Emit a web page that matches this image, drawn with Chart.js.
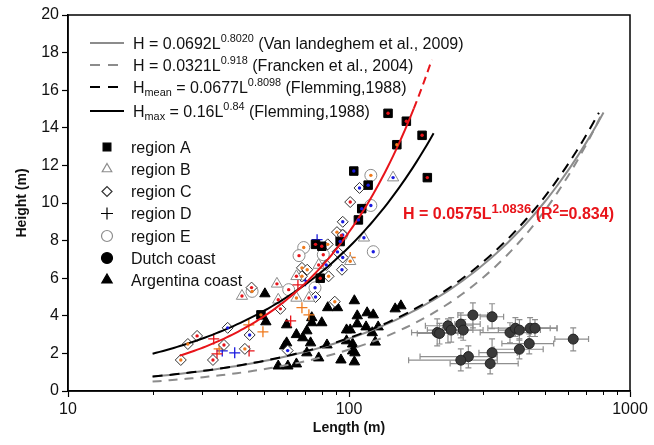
<!DOCTYPE html>
<html>
<head>
<meta charset="utf-8">
<script src="https://cdn.jsdelivr.net/npm/chart.js@4.4.1/dist/chart.umd.min.js"></script>
<style>
  html, body { margin: 0; padding: 0; background: #fff; }
</style>
</head>
<body>
<canvas id="bedforms" width="654" height="445"></canvas>
<script>
// [length (m), height (m), sub-group]
const regionA = [
  [137.7, 14.77, 'r'], [160, 14.35, 'r'], [182, 13.6, 'r'], [148, 13.1, 'o'],
  [190, 11.35, 'r'], [104, 11.7, 'b'], [117, 10.95, 'b'], [111, 9.7, 'b'],
  [108, 9.1, 'b'], [93, 7.95, 'b'], [80, 7.7, 'r'], [76, 7.8, 'r'],
  [79, 6.0, 'r'], [48.6, 4.05, 'o']
];
const regionB = [
  [143.5, 11.35, 'b'], [113, 8.15, 'b'], [101, 6.9, 'o'], [78, 6.7, 'r'],
  [65, 6.1, 'r'], [55.4, 5.7, 'r'], [41.6, 5.05, 'r'], [65, 4.95, 'o'],
  [56, 4.85, 'r'], [72, 4.95, 'r']
];
const regionC = [
  [109, 10.8, 'b'], [101, 10.05, 'r'], [95, 9.0, 'b'], [90.6, 8.45, 'o'],
  [95, 8.3, 'b'], [84, 7.8, 'o'], [91, 7.4, 'b'], [95, 7.1, 'b'],
  [68, 6.55, 'o'], [71, 6.45, 'o'], [83, 6.7, 'b'], [94.4, 6.45, 'b'],
  [68, 6.1, 'o'], [84.6, 6.1, 'o'], [76, 5.0, 'b'], [89, 4.75, 'o'],
  [57, 4.37, 'r'], [45, 5.5, 'r'], [37, 3.36, 'b'], [28.8, 2.93, 'r'],
  [26.7, 2.5, 'o'], [35.9, 2.45, 'r'], [32.8, 1.65, 'r'], [42.6, 2.24, 'o'],
  [25.2, 1.65, 'o'], [60.5, 2.15, 'b'], [44.3, 2.98, 'b']
];
const regionD = [
  [77, 8.05, 'b'], [101, 7.1, 'o'], [70, 5.87, 'b'], [65.8, 5.65, 'r'],
  [68, 4.43, 'o'], [72, 4.05, 'o'], [62, 3.73, 'r'], [44, 3.52, 'o'],
  [49.4, 3.15, 'o'], [33, 2.77, 'r'], [35.4, 2.13, 'b'], [33.9, 1.97, 'r'],
  [39.2, 2.03, 'b'], [44.1, 2.13, 'r'], [34.5, 2.24, 'o']
];
const regionE = [
  [119.6, 11.47, 'o'], [119.6, 9.87, 'b'], [94, 8.27, 'r'], [81, 7.25, 'r'],
  [69, 7.63, 'o'], [66.4, 7.2, 'r'], [122, 7.41, 'b'], [75.7, 5.49, 'b'],
  [61, 5.39, 'r'], [45.2, 5.3, 'o']
];
const argentinaCoast = [
  [50.2, 5.17], [50.6, 3.68], [60, 3.52], [65, 3.0], [70.8, 3.2], [68.5, 2.83],
  [60, 2.56], [59, 2.4], [73, 2.56], [73.7, 3.9], [73.7, 3.63], [80, 3.63],
  [84, 4.43], [91, 4.43], [104.5, 4.8], [107, 4.0], [116, 4.16], [122, 4.05],
  [107, 3.57], [115, 3.41], [127, 3.41], [98, 3.25], [101, 3.25], [83.5, 2.45],
  [98, 2.67], [103, 2.5], [103, 2.13], [105, 2.03], [124, 2.6], [121, 3.1],
  [70.8, 2.03], [78, 1.76], [93.6, 1.65], [104.5, 1.55], [56, 1.33], [60.6, 1.33],
  [65, 1.44], [146, 4.37], [153, 4.53]
];
// [length, height, length min, length max, height min, height max]
const dutchCoast = [
  [276, 4.04, 244, 312, 3.36, 4.69], [323, 3.95, 293, 355, 3.31, 4.64],
  [225, 3.47, 187, 276, 2.56, 3.84], [250, 3.56, 238, 293, 2.83, 4.16],
  [206, 3.11, 167, 244, 2.4, 3.84], [210, 3.06, 175, 250, 2.5, 3.6],
  [231, 3.24, 190, 276, 2.6, 3.9], [255, 3.24, 215, 300, 2.7, 3.8],
  [374, 3.11, 293, 441, 2.56, 3.63], [391, 3.34, 312, 550, 2.9, 3.9],
  [404, 3.24, 340, 480, 2.7, 3.8], [441, 3.34, 383, 550, 2.9, 3.9],
  [459, 3.34, 400, 520, 2.9, 3.8], [628, 2.76, 540, 712, 2.13, 3.36],
  [438, 2.52, 350, 535, 1.97, 3.04], [404, 2.22, 328, 491, 1.71, 2.77],
  [323, 2.04, 290, 397, 1.33, 2.77], [266, 1.83, 179, 337, 1.23, 2.4],
  [250, 1.64, 163, 337, 1.07, 2.24], [318, 1.46, 229, 400, 0.91, 2.13]
];

// H = a * L^b, drawn between the given lengths
const eqVanLandeghem = [0.0692, 0.8020];
const eqFrancken = [0.0321, 0.918];
const eqFlemmingMean = [0.0677, 0.8098];
const eqFlemmingMax = [0.16, 0.84];
const eqFit = [0.0575, 1.0836];
const fitR2 = 0.834;

const xMajor = [10, 100, 1000];
const xMinor = [20, 30, 40, 50, 60, 70, 80, 90, 200, 300, 400, 500, 600, 700, 800, 900];

const FONT = "'Liberation Sans', Arial, Helvetica, sans-serif";
const dotColors = { r: '#e8141a', o: '#f07a1c', b: '#1a1ae0' };

function powerCurve([a, b], from, to) {
  const pts = [];
  const n = 80;
  for (let i = 0; i <= n; i++) {
    const L = from * Math.pow(to / from, i / n);
    pts.push({ x: L, y: a * Math.pow(L, b) });
  }
  return pts;
}

const toXY = arr => arr.map(p => ({ x: p[0], y: p[1] }));

function curve(eq, from, to, color, dash) {
  return {
    data: powerCurve(eq, from, to), showLine: true, pointRadius: 0,
    borderColor: color, borderWidth: 2, borderDash: dash || [], fill: false
  };
}

function markers(arr, style, opts) {
  return Object.assign({
    data: toXY(arr), groups: arr.map(p => p[2]), pointStyle: style,
    showLine: false, pointBorderWidth: 1
  }, opts);
}

// small coloured dot in the middle of each region marker
const centreDots = {
  id: 'centreDots',
  afterDatasetsDraw(chart) {
    const ctx = chart.ctx;
    ctx.save();
    chart.data.datasets.forEach((ds, i) => {
      if (!ds.groups || ds.pointStyle === 'cross') return;
      chart.getDatasetMeta(i).data.forEach((pt, j) => {
        ctx.beginPath();
        ctx.arc(pt.x, pt.y, 1.7, 0, Math.PI * 2);
        ctx.fillStyle = dotColors[ds.groups[j]];
        ctx.fill();
      });
    });
    ctx.restore();
  }
};

const errorBars = {
  id: 'errorBars',
  beforeDatasetsDraw(chart) {
    const { ctx, scales: { x, y } } = chart;
    ctx.save();
    ctx.strokeStyle = '#8f8f8f';
    ctx.lineWidth = 1.2;
    dutchCoast.forEach(([L, H, L0, L1, H0, H1]) => {
      const px = x.getPixelForValue(L), py = y.getPixelForValue(H);
      const xa = x.getPixelForValue(L0), xb = x.getPixelForValue(L1);
      const ya = y.getPixelForValue(H0), yb = y.getPixelForValue(H1);
      ctx.beginPath();
      ctx.moveTo(xa, py); ctx.lineTo(xb, py);
      ctx.moveTo(xa, py - 3); ctx.lineTo(xa, py + 3);
      ctx.moveTo(xb, py - 3); ctx.lineTo(xb, py + 3);
      ctx.moveTo(px, ya); ctx.lineTo(px, yb);
      ctx.moveTo(px - 3, ya); ctx.lineTo(px + 3, ya);
      ctx.moveTo(px - 3, yb); ctx.lineTo(px + 3, yb);
      ctx.stroke();
    });
    ctx.restore();
  }
};

// frame round the plot and short minor ticks on the log axis
const frame = {
  id: 'frame',
  afterDraw(chart) {
    const { ctx, chartArea: a, scales: { x } } = chart;
    ctx.save();
    ctx.strokeStyle = '#000';
    ctx.lineWidth = 1.5;
    ctx.strokeRect(a.left, a.top, a.right - a.left, a.bottom - a.top);
    ctx.lineWidth = 1;
    ctx.beginPath();
    xMinor.forEach(v => {
      const px = Math.round(x.getPixelForValue(v)) + 0.5;
      ctx.moveTo(px, a.bottom);
      ctx.lineTo(px, a.bottom + 4);
    });
    ctx.stroke();
    ctx.restore();
  }
};

function drawRich(ctx, x, y, parts, size, bold, color) {
  const w = bold ? 'bold ' : '';
  parts.forEach(([t, kind, s]) => {
    ctx.font = w + (kind ? (s || size * 0.68) : size) + 'px ' + FONT;
    ctx.fillStyle = color;
    const dy = kind === 'sup' ? -size * 0.38 : kind === 'sub' ? size * 0.24 : 0;
    ctx.fillText(t, x, y + dy);
    x += ctx.measureText(t).width;
  });
}

const legendBox = {
  id: 'legendBox',
  afterDraw(chart) {
    const ctx = chart.ctx;
    ctx.save();
    ctx.textBaseline = 'alphabetic';
    ctx.textAlign = 'left';
    const rows = [
      { y: 43, color: '#8c8c8c', dash: [], parts: [['H = ' + eqVanLandeghem[0] + 'L'], [eqVanLandeghem[1].toFixed(4), 'sup'], [' (Van landeghem et al., 2009)']] },
      { y: 65, color: '#8c8c8c', dash: [10, 8], parts: [['H = ' + eqFrancken[0] + 'L'], [String(eqFrancken[1]), 'sup'], [' (Francken et al., 2004)']] },
      { y: 87, color: '#000', dash: [10, 8], parts: [['H'], ['mean', 'sub'], [' = ' + eqFlemmingMean[0] + 'L'], [String(eqFlemmingMean[1]), 'sup'], [' (Flemming,1988)']] },
      { y: 111, color: '#000', dash: [], parts: [['H'], ['max', 'sub'], [' = ' + eqFlemmingMax[0] + 'L'], [String(eqFlemmingMax[1]), 'sup'], [' (Flemming,1988)']] }
    ];
    rows.forEach(r => {
      ctx.strokeStyle = r.color;
      ctx.lineWidth = 2;
      ctx.setLineDash(r.dash);
      ctx.beginPath();
      ctx.moveTo(90, r.y); ctx.lineTo(124, r.y);
      ctx.stroke();
      ctx.setLineDash([]);
      drawRich(ctx, 133, r.y + 5.5, r.parts, 16, false, '#111');
    });

    const marks = [
      ['region A', { pointStyle: 'rect', radius: 5.5 }, '#000', '#000'],
      ['region B', { pointStyle: 'triangle', radius: 5.5 }, '#fff', '#8c8c8c'],
      ['region C', { pointStyle: 'rectRot', radius: 5 }, '#fff', '#333'],
      ['region D', { pointStyle: 'cross', radius: 6 }, '#000', '#000'],
      ['region E', { pointStyle: 'circle', radius: 5.5 }, '#fff', '#8c8c8c'],
      ['Dutch coast', { pointStyle: 'circle', radius: 5.5 }, '#000', '#000'],
      ['Argentina coast', { pointStyle: 'triangle', radius: 6 }, '#000', '#000']
    ];
    const ys = [147, 169, 191.5, 213.5, 236, 258, 280];
    marks.forEach(([label, opt, fill, stroke], i) => {
      ctx.fillStyle = fill;
      ctx.strokeStyle = stroke;
      ctx.lineWidth = 1.2;
      Chart.helpers.drawPoint(ctx, Object.assign({ rotation: 0, borderWidth: 1.2 }, opt), 107, ys[i]);
      ctx.font = '16px ' + FONT;
      ctx.fillStyle = '#111';
      ctx.fillText(label, 131, ys[i] + 5.5);
    });

    // fitted relation for the regional data
    drawRich(ctx, 403, 219, [
      ['H = ' + eqFit[0] + 'L'], [eqFit[1].toFixed(4), 'sup', 13], [' (R'], ['2', 'sup', 12], ['=' + fitR2 + ')']
    ], 16, true, '#e8141a');
    ctx.restore();
  }
};

new Chart(document.getElementById('bedforms'), {
  type: 'scatter',
  data: {
    datasets: [
      curve(eqFit, 25, 170, '#e8141a'),
      curve(eqFit, 170, 197, '#e8141a', [8, 5]),
      curve(eqFlemmingMax, 20, 200, '#000'),
      curve(eqFlemmingMean, 20, 775, '#000', [10, 7]),
      curve(eqVanLandeghem, 20, 805, '#8c8c8c'),
      curve(eqFrancken, 20, 795, '#8c8c8c', [9, 7]),
      markers(regionA, 'rect', { pointRadius: 6, backgroundColor: '#000', borderColor: '#000' }),
      markers(regionB, 'triangle', { pointRadius: 6.5, backgroundColor: '#fff', borderColor: '#8c8c8c' }),
      markers(regionC, 'rectRot', { pointRadius: 5.5, backgroundColor: '#fff', borderColor: '#333' }),
      markers(regionD, 'cross', {
        pointRadius: 5.5, pointBorderWidth: 1.3,
        borderColor: regionD.map(p => dotColors[p[2]]), backgroundColor: 'transparent'
      }),
      markers(regionE, 'circle', { pointRadius: 6, backgroundColor: '#fff', borderColor: '#8c8c8c' }),
      { data: toXY(dutchCoast), pointStyle: 'circle', pointRadius: 5, backgroundColor: '#3a3a3a', borderColor: '#222', pointBorderWidth: 1 },
      { data: toXY(argentinaCoast), pointStyle: 'triangle', pointRadius: 6, backgroundColor: '#000', borderColor: '#000', pointBorderWidth: 1 }
    ]
  },
  options: {
    responsive: false,
    animation: false,
    devicePixelRatio: 1,
    events: [],
    layout: { padding: { top: 15, right: 24, left: 0, bottom: 0 } },
    plugins: { legend: { display: false }, tooltip: { enabled: false } },
    scales: {
      x: {
        type: 'logarithmic',
        min: 10,
        max: 1000,
        afterBuildTicks: s => { s.ticks = xMajor.map(v => ({ value: v })); },
        afterFit: s => { s.height = 54; },
        ticks: { autoSkip: false, maxRotation: 0, color: '#111', font: { size: 16, family: FONT }, padding: 3, callback: v => String(v) },
        grid: { drawOnChartArea: false, tickLength: 6, tickColor: '#000', tickWidth: 1.2 },
        border: { color: '#000', width: 1.5 },
        title: { display: true, text: 'Length (m)', color: '#111', font: { size: 14, weight: 'bold', family: FONT }, padding: { top: 0, bottom: 8 } }
      },
      y: {
        min: 0,
        max: 20,
        afterFit: s => { s.width = 68; },
        ticks: { stepSize: 2, color: '#111', font: { size: 16, family: FONT }, padding: 3 },
        grid: { drawOnChartArea: false, tickLength: 6, tickColor: '#000', tickWidth: 1.2 },
        border: { color: '#000', width: 1.5 },
        title: { display: true, text: 'Height (m)', color: '#111', font: { size: 14, weight: 'bold', family: FONT }, padding: { top: 14, bottom: 0 } }
      }
    }
  },
  plugins: [errorBars, centreDots, frame, legendBox]
});
</script>
</body>
</html>
